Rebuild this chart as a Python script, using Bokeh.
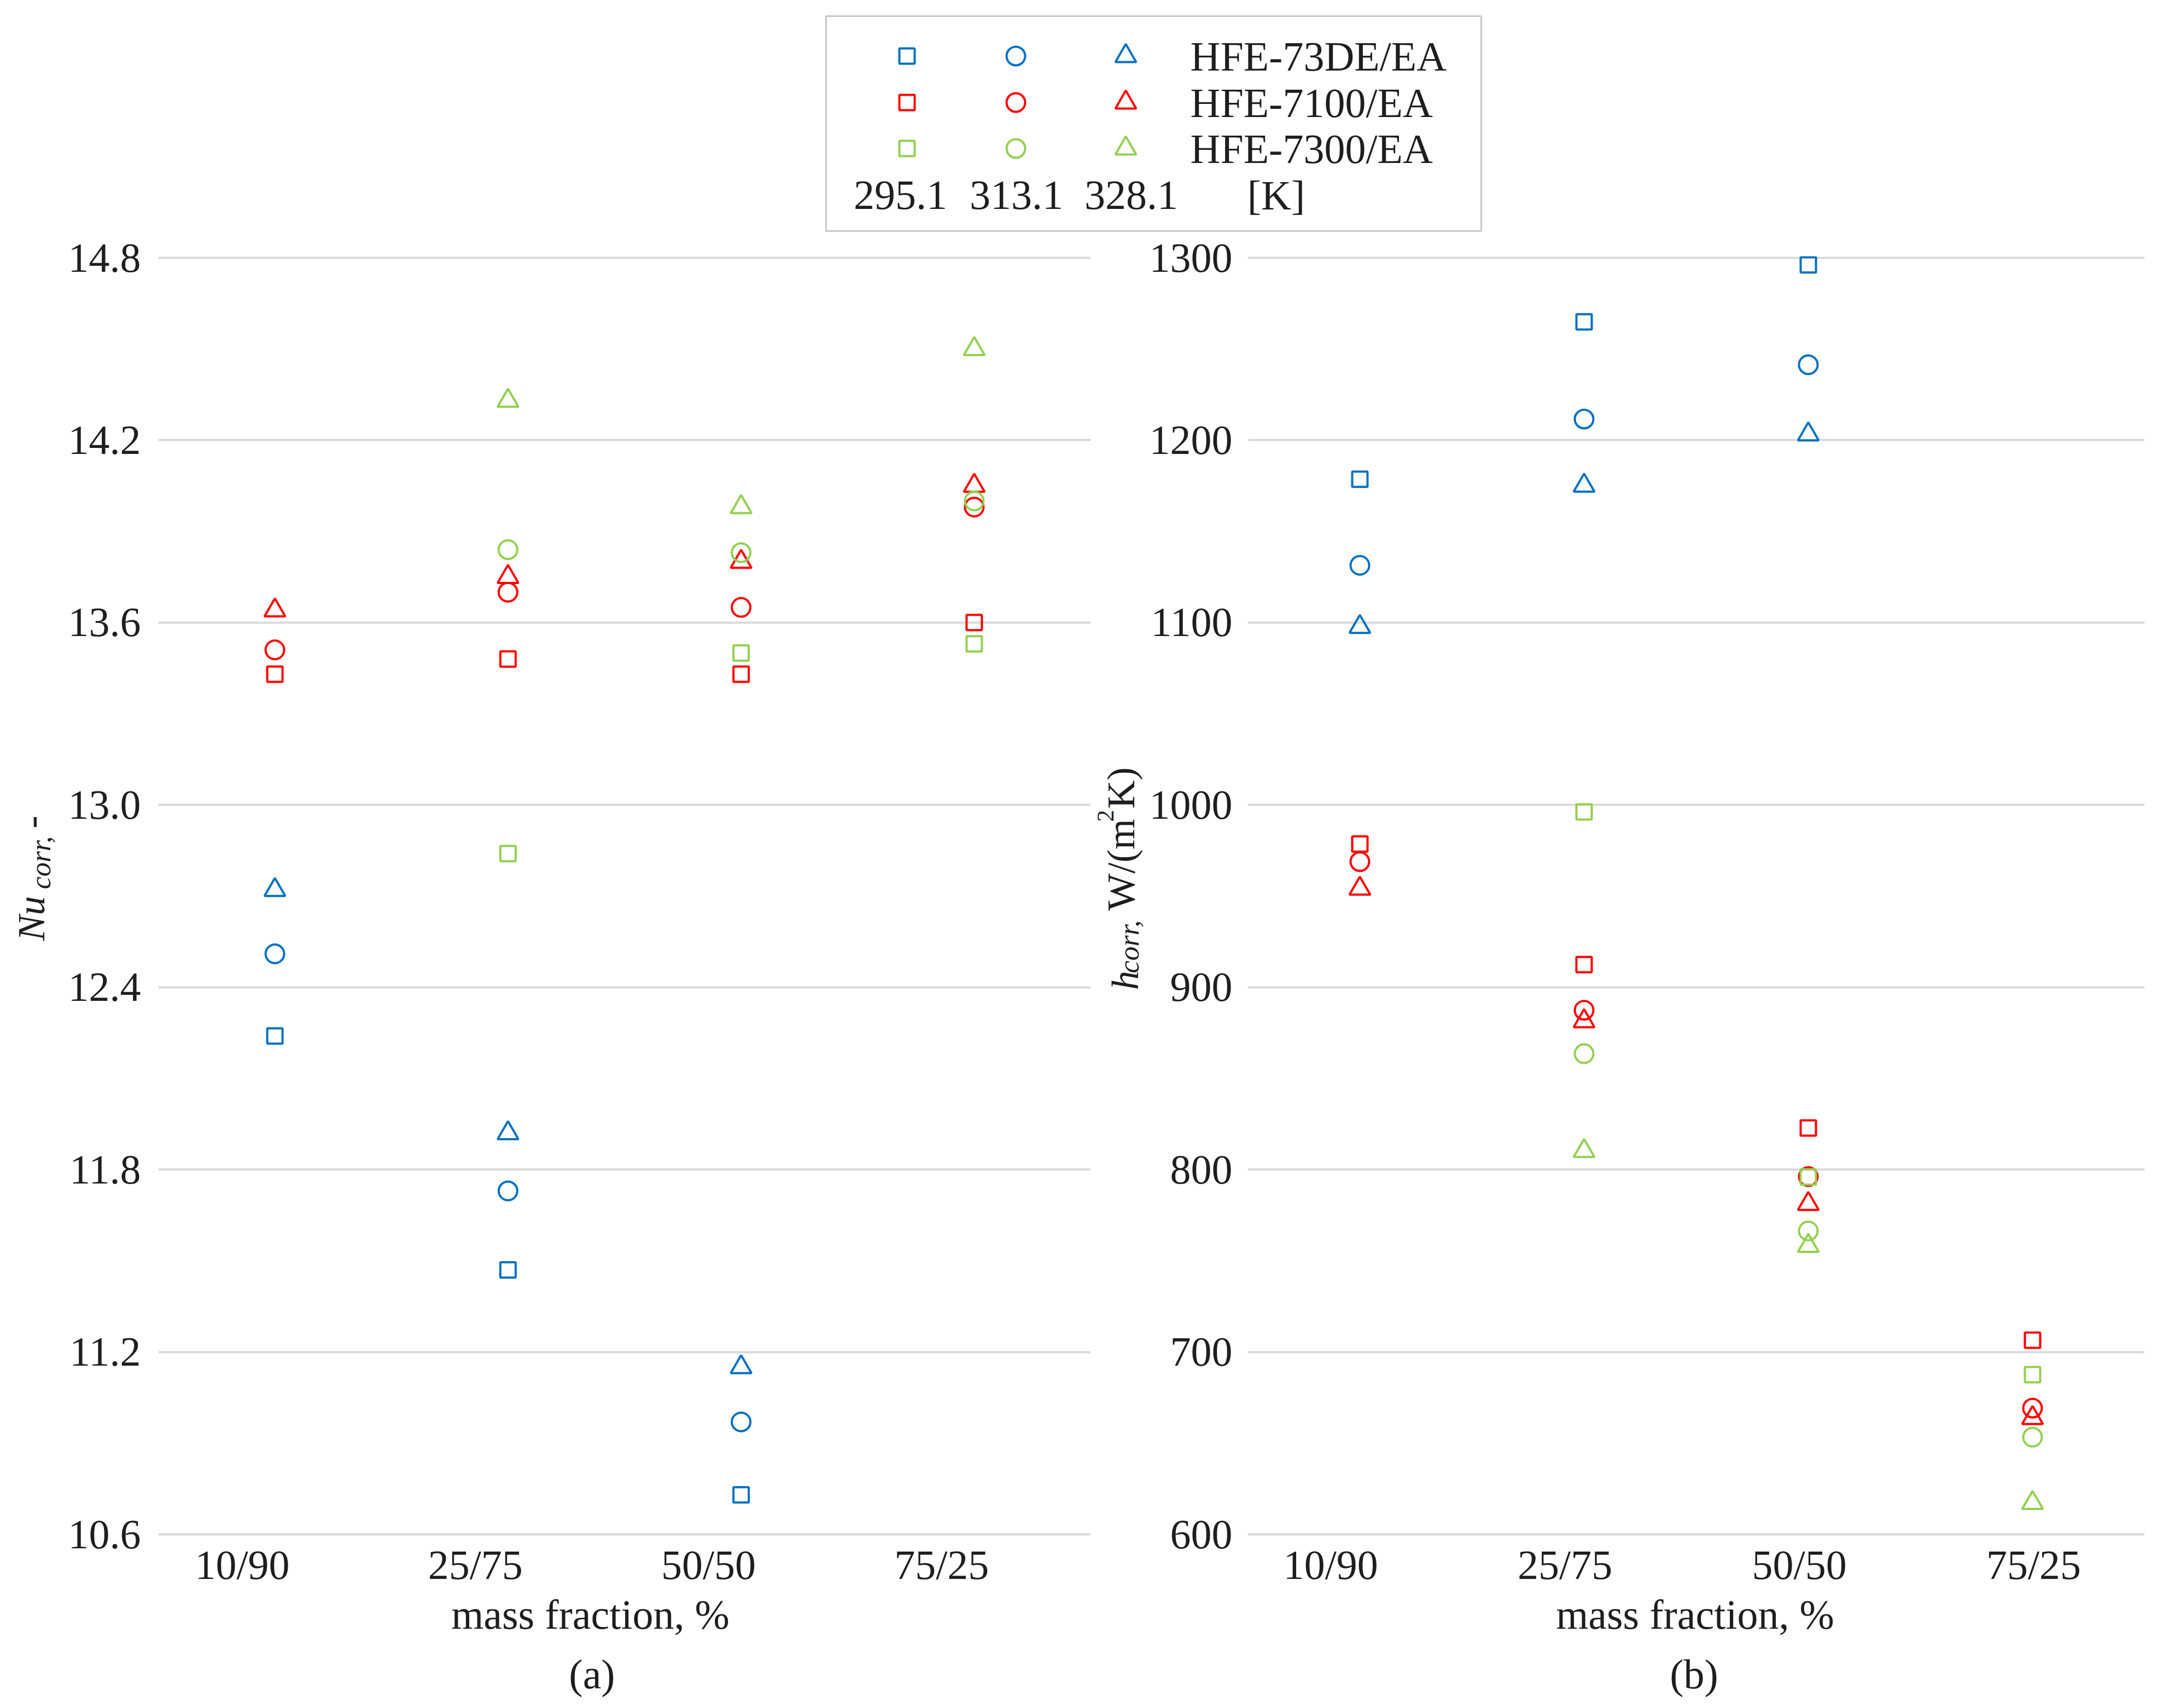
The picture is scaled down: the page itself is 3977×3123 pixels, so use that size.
import math
from bokeh.plotting import figure
from bokeh.models import Range1d, FixedTicker, PrintfTickFormatter, Label
from bokeh.layouts import column, row
from bokeh.embed import file_html
from bokeh.resources import INLINE
from bokeh.core.properties import value

# ---------------- data ----------------
categories = ["10/90", "25/75", "50/50", "75/25"]
fluids = ["HFE-73DE/EA", "HFE-7100/EA", "HFE-7300/EA"]
temps = ["295.1", "313.1", "328.1"]
temp_unit = "[K]"

# Nu_corr, -  (None = not measured)
nu_73de_295 = [12.24, 11.47, 10.73, None]
nu_73de_313 = [12.51, 11.73, 10.97, None]
nu_73de_328 = [12.72, 11.92, 11.15, None]
nu_7100_295 = [13.43, 13.48, 13.43, 13.60]
nu_7100_313 = [13.51, 13.70, 13.65, 13.98]
nu_7100_328 = [13.64, 13.75, 13.80, 14.05]
nu_7300_295 = [None, 12.84, 13.50, 13.53]
nu_7300_313 = [None, 13.84, 13.83, 14.00]
nu_7300_328 = [None, 14.33, 13.98, 14.50]

# h_corr, W/(m2K)
h_73de_295 = [1178.6, 1264.9, 1296.2, None]
h_73de_313 = [1131.4, 1211.6, 1241.4, None]
h_73de_328 = [1097.6, 1175.1, 1203.2, None]
h_7100_295 = [978.6, 912.4, 822.8, 706.5]
h_7100_313 = [968.9, 887.4, 796.2, 669.2]
h_7100_328 = [954.1, 881.4, 781.2, 663.8]
h_7300_295 = [None, 996.2, 796.0, 687.6]
h_7300_313 = [None, 863.6, 766.4, 653.3]
h_7300_328 = [None, 810.2, 758.2, 617.2]

nu_ticks = [10.6, 11.2, 11.8, 12.4, 13.0, 13.6, 14.2, 14.8]
h_ticks = [600, 700, 800, 900, 1000, 1100, 1200, 1300]

nu_series = [[nu_73de_295, nu_73de_313, nu_73de_328],
             [nu_7100_295, nu_7100_313, nu_7100_328],
             [nu_7300_295, nu_7300_313, nu_7300_328]]
h_series = [[h_73de_295, h_73de_313, h_73de_328],
            [h_7100_295, h_7100_313, h_7100_328],
            [h_7300_295, h_7300_313, h_7300_328]]

# ---------------- style / layout ----------------
FONT = "Liberation Serif"
TXT = "#1e1e1e"
colors = ["#0070C0", "#FF0000", "#92D050"]
markers = ["square", "circle", "triangle"]
msize = {"square": 28, "circle": 34, "triangle": 38}
LW = 4
GRID = "#d9d9d9"
TICK_FS = "76px"

TOTAL_W = 3961
TOP_H = 424          # legend strip
FRAME_TOP = 468
B_TOP = FRAME_TOP - TOP_H
FRAME_H = 2340
B_BOT = 90
ROW_H = B_TOP + FRAME_H + B_BOT
ROW_TOP = TOP_H
ROW_BOT = TOP_H + ROW_H
BOT_H = 3107 - ROW_BOT
PAD_PX = 3           # half a grid line, so edge grid lines are not clipped


def aux_fig(w, h, xr, yr):
    f = figure(width=w, height=h, x_range=xr, y_range=yr,
               output_backend="svg", toolbar_location=None, min_border=0,
               x_axis_type=None, y_axis_type=None,
               background_fill_color="white", border_fill_color="white")
    f.outline_line_color = None
    f.grid.visible = False
    return f


def txt(f, x, y, s, size, italic=False, angle=0.0, align="left", baseline="alphabetic"):
    f.text(x=[x], y=[y], text=[s], angle=angle, text_font=value(FONT),
           text_font_style="italic" if italic else "normal",
           text_font_size=value(f"{size}px"), text_color=TXT,
           text_align=align, text_baseline=baseline)


def vlab(f, cx, cy, s, size, italic=False):
    """Rotated (bottom-to-top) title piece, centred on (cx, cy)."""
    f.add_layout(Label(x=cx, y=cy, text=s, angle=math.pi / 2, text_font=FONT,
                       text_font_style="italic" if italic else "normal",
                       text_font_size=f"{size}px", text_color=TXT,
                       text_align="center", text_baseline="middle"))


def make_panel(series, ylo, yhi, yticks, fmt, frame_w, b_left, b_right, tick_pos, standoff):
    pad = (yhi - ylo) / (FRAME_H - 2 * PAD_PX) * PAD_PX
    p = figure(frame_width=frame_w, frame_height=FRAME_H,
               x_range=Range1d(0, len(categories)), y_range=Range1d(ylo - pad, yhi + pad),
               output_backend="svg", toolbar_location=None,
               min_border_left=b_left, min_border_right=b_right,
               min_border_top=B_TOP, min_border_bottom=B_BOT,
               background_fill_color="white", border_fill_color="white")
    p.outline_line_color = None
    p.xgrid.visible = False
    p.ygrid.grid_line_color = GRID
    p.ygrid.grid_line_width = LW
    p.yaxis.ticker = FixedTicker(ticks=yticks, minor_ticks=[])
    p.yaxis.formatter = PrintfTickFormatter(format=fmt)
    p.xaxis.ticker = FixedTicker(ticks=tick_pos, minor_ticks=[])
    p.xaxis.major_label_overrides = {t: c for t, c in zip(tick_pos, categories)}
    for ax in (p.xaxis[0], p.yaxis[0]):
        ax.axis_line_color = None
        ax.major_tick_line_color = None
        ax.minor_tick_line_color = None
        ax.major_label_text_font = FONT
        ax.major_label_text_font_size = TICK_FS
        ax.major_label_text_color = TXT
    p.xaxis.major_label_standoff = 4
    p.yaxis.major_label_standoff = standoff
    for fi, fl in enumerate(series):
        for ti, vals in enumerate(fl):
            xs = [i + 0.5 for i, v in enumerate(vals) if v is not None]
            ys = [v for v in vals if v is not None]
            p.scatter(xs, ys, marker=markers[ti], size=msize[markers[ti]],
                      fill_color=None, line_color=colors[fi], line_width=LW)
    return p


# ---- left y-title strip (page pixel coords) ----
YL1_W = 118
yl1 = aux_fig(YL1_W, ROW_H, Range1d(0, YL1_W), Range1d(ROW_BOT, ROW_TOP))
vlab(yl1, 57, 1708, "Nu", 70, italic=True)
vlab(yl1, 74, 1600, "corr,", 52, italic=True)
vlab(yl1, 57, 1521, "-", 70)

# ---- left panel (a) ----
left_ticks = [round(i + 0.36, 3) for i in range(len(categories))]
p1 = make_panel(nu_series, 10.6, 14.8, nu_ticks, "%.1f", 1705, 289 - YL1_W, 0, left_ticks, 26)
P1_RIGHT = 289 + 1705

# ---- right y-title strip ----
YL2_W = 104
yl2 = aux_fig(YL2_W, ROW_H, Range1d(P1_RIGHT, P1_RIGHT + YL2_W), Range1d(ROW_BOT, ROW_TOP))
vlab(yl2, 2057, 1828, "h", 70, italic=True)
vlab(yl2, 2064, 1763, "corr,", 52, italic=True)
vlab(yl2, 2049, 1604, "W/(m", 72)
vlab(yl2, 2021, 1509, "2", 44)
vlab(yl2, 2049, 1455, "K)", 72)

# ---- right panel (b) ----
right_ticks = [round(0.37 + 1.045 * i, 3) for i in range(len(categories))]
P2_LEFT = P1_RIGHT + YL2_W
p2 = make_panel(h_series, 600, 1300, h_ticks, "%d", 1640, 2279 - P2_LEFT,
                TOTAL_W - 2279 - 1640, right_ticks, 22)

# ---- bottom strip: axis titles and panel letters ----
bot = aux_fig(TOTAL_W, BOT_H, Range1d(0, TOTAL_W), Range1d(BOT_H, 0))
xt_y = 2944 - ROW_BOT
let_y = 3053 - ROW_BOT
txt(bot, 1079, xt_y, "mass fraction, %", 76, align="center", baseline="middle")
txt(bot, 1082, let_y, "(a)", 76, align="center", baseline="middle")
txt(bot, 3099, xt_y, "mass fraction, %", 76, align="center", baseline="middle")
txt(bot, 3097, let_y, "(b)", 76, align="center", baseline="middle")

# ---- legend strip ----
leg = aux_fig(TOTAL_W, TOP_H, Range1d(0, TOTAL_W), Range1d(TOP_H, 0))
leg.quad(left=1510, right=2708, top=29, bottom=422, fill_color="white",
         line_color="#c8c8c8", line_width=3)
col_x = [1658, 1857, 2058]
row_y = [102, 187, 271]
for fi in range(len(fluids)):
    for ti in range(len(temps)):
        leg.scatter([col_x[ti]], [row_y[fi]], marker=markers[ti], size=msize[markers[ti]],
                    fill_color=None, line_color=colors[fi], line_width=LW)
leg.text(x=[2176] * len(fluids), y=row_y, text=fluids, text_font=value(FONT),
         text_font_size=value("76px"), text_color=TXT, text_baseline="middle", text_align="left")
leg.text(x=[1646, 1858, 2068, 2333], y=[356] * 4, text=temps + [temp_unit], text_font=value(FONT),
         text_font_size=value("76px"), text_color=TXT, text_baseline="middle", text_align="center")

layout = column(leg, row(yl1, p1, yl2, p2), bot)
open("out.html", "w").write(file_html(layout, INLINE))
